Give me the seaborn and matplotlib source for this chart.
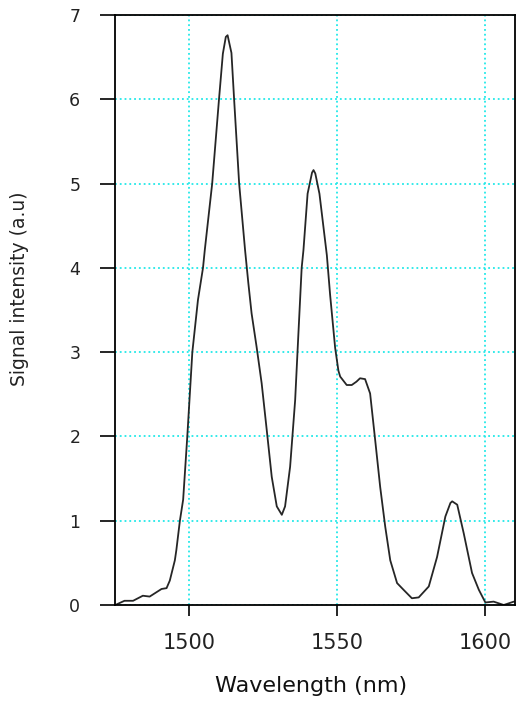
import numpy as np
import pandas as pd
import seaborn as sns
from matplotlib import pyplot as plt

# spectrum (wavelength in nm, intensity in a.u.)
wavelength = [1475.1, 1478.2, 1481.1, 1484.4, 1486.7, 1490.7, 1492.4, 1493.5, 1495.2, 1495.7,
              1496.9, 1498.0, 1499.4, 1501.1, 1503.0, 1504.7, 1505.3, 1507.8, 1510.1, 1511.4,
              1512.4, 1513.0, 1514.3, 1515.2, 1516.9, 1518.9, 1520.0, 1521.1, 1522.8, 1524.5,
              1526.2, 1527.9, 1529.6, 1531.3, 1532.4, 1534.1, 1535.8, 1536.9, 1538.0, 1538.6,
              1540.0, 1541.5, 1542.0, 1542.6, 1544.0, 1546.5, 1547.6, 1549.3, 1550.4, 1551.0,
              1553.2, 1554.9, 1556.5, 1557.7, 1559.4, 1561.1, 1562.8, 1564.5, 1566.2, 1567.9,
              1570.2, 1572.4, 1575.2, 1577.5, 1580.9, 1583.7, 1586.5, 1588.2, 1588.8, 1590.5,
              1592.7, 1595.5, 1597.8, 1600.0, 1602.8, 1606.2, 1609.6]
intensity = [0.00, 0.05, 0.05, 0.11, 0.10, 0.19, 0.20, 0.29, 0.53, 0.65,
             1.00, 1.25, 2.00, 3.00, 3.62, 4.00, 4.21, 5.00, 6.00, 6.54,
             6.74, 6.76, 6.55, 6.00, 5.00, 4.21, 3.82, 3.46, 3.06, 2.63,
             2.08, 1.52, 1.17, 1.07, 1.17, 1.64, 2.43, 3.22, 4.00, 4.21,
             4.88, 5.13, 5.16, 5.12, 4.88, 4.15, 3.68, 3.05, 2.78, 2.71,
             2.61, 2.61, 2.65, 2.69, 2.68, 2.51, 1.96, 1.40, 0.93, 0.53,
             0.26, 0.18, 0.08, 0.09, 0.22, 0.57, 1.05, 1.21, 1.23, 1.19,
             0.85, 0.38, 0.18, 0.03, 0.04, 0.00, 0.04]

x_ticks = [1500, 1550, 1600]
y_ticks = [0, 1, 2, 3, 4, 5, 6, 7]

df = pd.DataFrame({"wavelength": wavelength, "intensity": intensity})

sns.set_style("white")
plt.rcParams['font.family'] = ['DejaVu Sans']

fig = plt.figure(figsize=(5.22, 7.04), dpi=100)
ax = fig.add_axes([115 / 522, 1 - 605 / 704, 400 / 522, 590 / 704])

sns.lineplot(data=df, x="wavelength", y="intensity", color="#262626", linewidth=1.3, ax=ax)

ax.set_xlim(1475, 1610)
ax.set_ylim(0, 7)
ax.set_xticks(x_ticks)
ax.set_yticks(y_ticks)

ax.grid(True, color="#22E8E8", linestyle=":", linewidth=1.3)
ax.set_axisbelow(True)

for side in ["left", "right", "top", "bottom"]:
    ax.spines[side].set_visible(True)
    ax.spines[side].set_color("black")
    ax.spines[side].set_linewidth(1.3)

ax.tick_params(axis="y", direction="out", length=11, width=1.2, pad=14,
               labelsize=12.5, colors="black", labelcolor="#222222", left=True)
ax.tick_params(axis="x", direction="out", length=8, width=1.2, pad=12,
               labelsize=15, colors="black", labelcolor="#222222", bottom=True)

ax.set_xlabel("Wavelength (nm)", fontsize=16, color="#111111")
ax.set_ylabel("Signal intensity (a.u)", fontsize=13.5, color="#222222")
ax.xaxis.set_label_coords(0.49, -0.12)
ax.yaxis.set_label_coords(-0.215, 0.536)

plt.savefig("out.png", dpi=100)
